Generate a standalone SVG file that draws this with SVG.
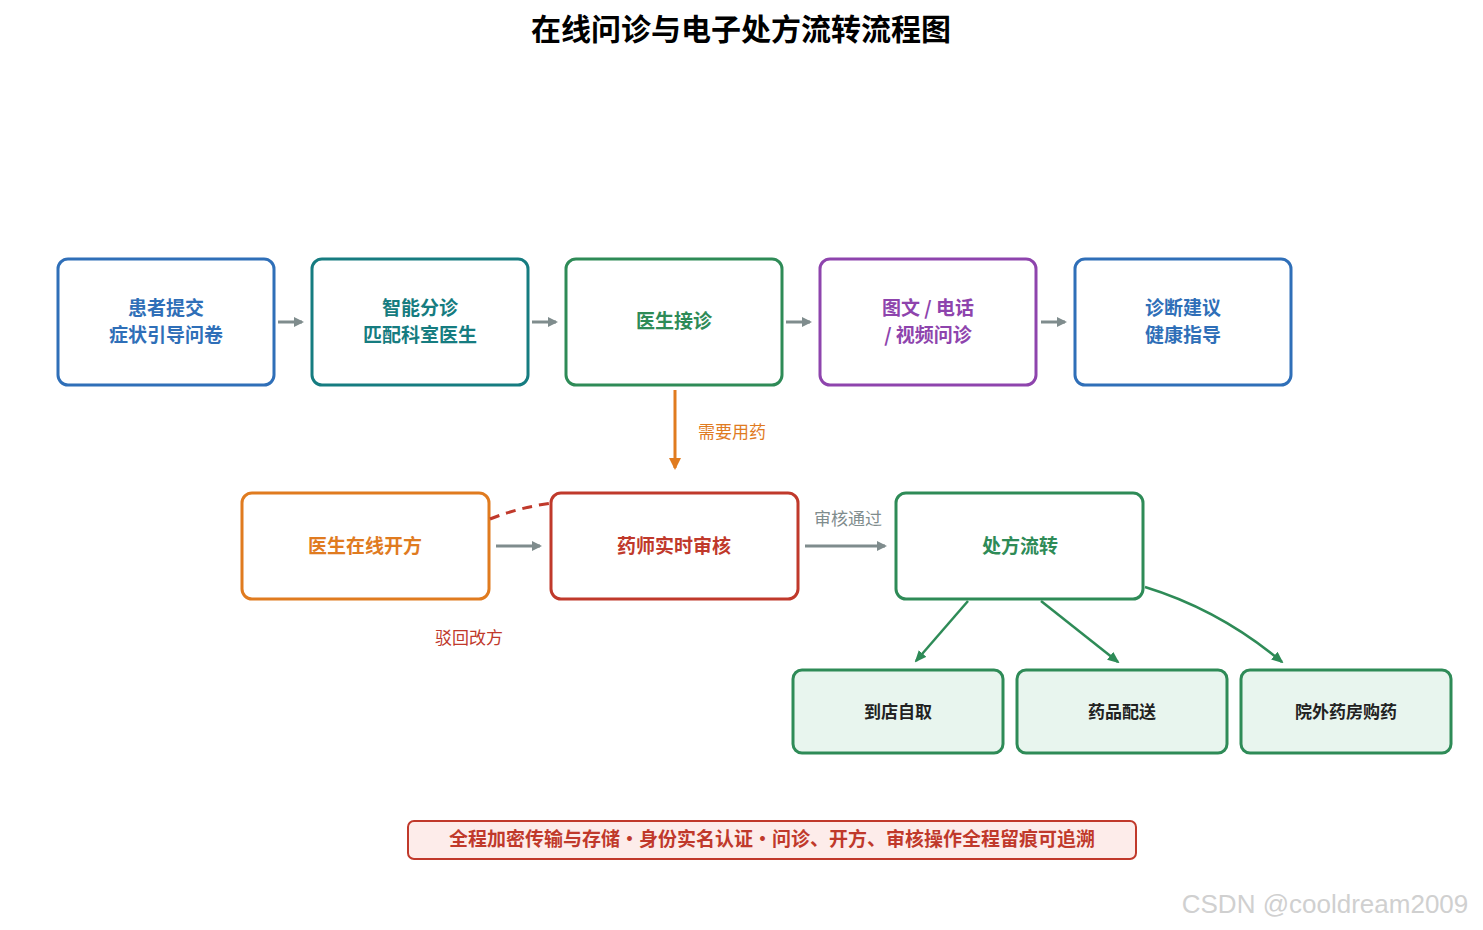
<svg xmlns="http://www.w3.org/2000/svg" width="1483" height="930" viewBox="0 0 1483 930">
<style>
text{font-family:"Noto Sans CJK SC","Liberation Sans",sans-serif;text-anchor:middle}
.t{font-size:19px;font-weight:bold}
.n{fill:#fff;stroke-width:3}
.l{font-size:17px}
.g{stroke:#7f8c8d;stroke-width:3;fill:none}
</style>
<defs>
<marker id="ag" markerWidth="10" markerHeight="10" refX="8" refY="5" orient="auto" markerUnits="userSpaceOnUse"><path d="M0,0L10,5L0,10z" fill="#7f8c8d"/></marker>
<marker id="ao" markerWidth="12" markerHeight="12" refX="10" refY="6" orient="auto" markerUnits="userSpaceOnUse"><path d="M0,0L12,6L0,12z" fill="#e07b1f"/></marker>
<marker id="an" markerWidth="12" markerHeight="10" refX="10" refY="5" orient="auto" markerUnits="userSpaceOnUse"><path d="M0,0L12,5L0,10z" fill="#2e8b57"/></marker>
</defs>
<rect width="1483" height="930" fill="#fff"/>
<text x="741" y="40" style="font-size:30px;font-weight:bold">在线问诊与电子处方流转流程图</text>
<g id="n1"><rect class="n" x="58" y="259" width="216" height="126" rx="10" stroke="#2f6fb8"/><text class="t" fill="#2f6fb8" x="166" y="315">患者提交</text><text class="t" fill="#2f6fb8" x="166" y="342">症状引导问卷</text></g>
<g id="n2"><rect class="n" x="312" y="259" width="216" height="126" rx="10" stroke="#167c80"/><text class="t" fill="#167c80" x="420" y="315">智能分诊</text><text class="t" fill="#167c80" x="420" y="342">匹配科室医生</text></g>
<g id="n3"><rect class="n" x="566" y="259" width="216" height="126" rx="10" stroke="#2e8b57"/><text class="t" fill="#2e8b57" x="674" y="328">医生接诊</text></g>
<g id="n4"><rect class="n" x="820" y="259" width="216" height="126" rx="10" stroke="#8e44ad"/><text class="t" fill="#8e44ad" x="928" y="315">图文 / 电话</text><text class="t" fill="#8e44ad" x="928" y="342">/ 视频问诊</text></g>
<g id="n5"><rect class="n" x="1075" y="259" width="216" height="126" rx="10" stroke="#2f6fb8"/><text class="t" fill="#2f6fb8" x="1183" y="315">诊断建议</text><text class="t" fill="#2f6fb8" x="1183" y="342">健康指导</text></g>
<g id="n6"><rect class="n" x="242" y="493" width="247" height="106" rx="10" stroke="#e07b1f"/><text class="t" fill="#e07b1f" x="365" y="553">医生在线开方</text></g>
<g id="n7"><rect class="n" x="551" y="493" width="247" height="106" rx="10" stroke="#c0392b"/><text class="t" fill="#c0392b" x="674" y="553">药师实时审核</text></g>
<g id="n8"><rect class="n" x="896" y="493" width="247" height="106" rx="10" stroke="#2e8b57"/><text class="t" fill="#2e8b57" x="1020" y="553">处方流转</text></g>
<g id="n9"><rect class="n" x="793" y="670" width="210" height="83" rx="9" stroke="#2e8b57" fill="#e8f5ee" style="fill:#e8f5ee"/><text fill="#222" x="898" y="718" style="font-size:17px;font-weight:bold">到店自取</text></g>
<g id="n10"><rect class="n" x="1017" y="670" width="210" height="83" rx="9" stroke="#2e8b57" style="fill:#e8f5ee"/><text fill="#222" x="1122" y="718" style="font-size:17px;font-weight:bold">药品配送</text></g>
<g id="n11"><rect class="n" x="1241" y="670" width="210" height="83" rx="9" stroke="#2e8b57" style="fill:#e8f5ee"/><text fill="#222" x="1346" y="718" style="font-size:17px;font-weight:bold">院外药房购药</text></g>
<g id="connectors">
<path class="g" d="M278,322H302" marker-end="url(#ag)"/>
<path class="g" d="M532,322H556" marker-end="url(#ag)"/>
<path class="g" d="M786,322H810" marker-end="url(#ag)"/>
<path class="g" d="M1041,322H1065" marker-end="url(#ag)"/>
<path d="M675,390V468" stroke="#e07b1f" stroke-width="3" fill="none" marker-end="url(#ao)"/>
<text class="l" fill="#e07b1f" x="732" y="438">需要用药</text>
<path class="g" d="M496,546H540" marker-end="url(#ag)"/>
<path class="g" d="M805,546H885" marker-end="url(#ag)"/>
<text class="l" fill="#7f8c8d" x="848" y="525">审核通过</text>
<path d="M490,519Q520,507 553,503" stroke="#c0392b" stroke-width="3" fill="none" stroke-dasharray="10,7"/>
<text class="l" fill="#c0392b" x="469" y="644">驳回改方</text>
<path d="M968,601L916,661" stroke="#2e8b57" stroke-width="2.5" fill="none" marker-end="url(#an)"/>
<path d="M1041,601L1118,662" stroke="#2e8b57" stroke-width="2.5" fill="none" marker-end="url(#an)"/>
<path d="M1145,587Q1220,610 1282,662" stroke="#2e8b57" stroke-width="2.5" fill="none" marker-end="url(#an)"/>
</g>
<g id="note"><rect x="408" y="821" width="728" height="38" rx="6" fill="#fdecea" stroke="#c0392b" stroke-width="2"/><text fill="#c0392b" x="772" y="846" style="font-size:19px;font-weight:bold">全程加密传输与存储・身份实名认证・问诊、开方、审核操作全程留痕可追溯</text></g>
<text x="1325" y="913" fill="#d0d0d0" style="font-size:26px;font-family:'Liberation Sans',sans-serif">CSDN @cooldream2009</text>
</svg>
